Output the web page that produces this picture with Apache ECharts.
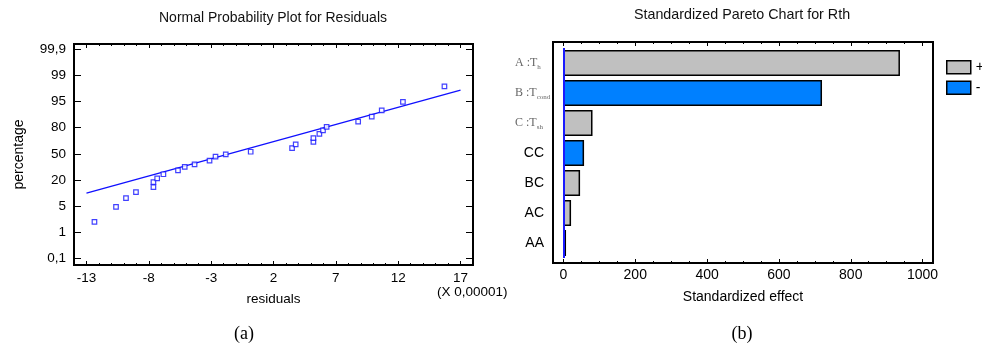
<!DOCTYPE html>
<html>
<head>
<meta charset="utf-8">
<script src="https://cdn.jsdelivr.net/npm/echarts@6/dist/echarts.min.js"></script>
<style>
html,body{margin:0;padding:0;background:#fff;}
#c{width:982px;height:348px;}
</style>
</head>
<body>
<div id="c"></div>
<script>
// ---------- (a) Normal probability plot ----------
// residuals in units of 0,00001
const residuals = [-12.36,-10.63,-9.83,-9.03,-7.63,-7.63,-7.33,-6.83,-5.66,-5.12,-4.33,-3.13,-2.65,-1.83,0.17,3.49,3.78,5.20,5.20,5.68,5.97,6.26,8.79,9.88,10.68,12.38,15.71];
// probability-scale level (0 = 0,1 % ... 8 = 99,9 %), as drawn on the equally spaced axis
const probLevel = [1.40,1.97,2.31,2.54,2.73,2.92,3.06,3.22,3.37,3.50,3.60,3.74,3.89,3.98,4.08,4.22,4.36,4.46,4.60,4.76,4.90,5.03,5.23,5.42,5.66,5.99,6.58];
const fitX = [-13, 17];
const fitLevel = [2.50, 6.44];
const percentLabels = ['0,1','1','5','20','50','80','95','99','99,9'];
const residualTicks = [-13,-8,-3,2,7,12,17];

// ---------- (b) Pareto chart ----------
const factors = ['A :T_h','B :T_cond','C :T_sh','CC','BC','AC','AA'];
const effects = [937, 720, 81, 57.5, 46.4, 21.3, 7.3];
const signs = ['+','-','+','-','+','+','-'];
const effectTicks = [0,200,400,600,800,1000];

const levelTicks = percentLabels.map((_, i) => i);
const residualMinor = [];
for (let v = -14; v <= 18; v++) residualMinor.push(v);
const effectMinor = [];
for (let v = 0; v <= 1000; v += 50) effectMinor.push(v);

const SANS = 'Liberation Sans, Arial, sans-serif';
const SERIF = 'Liberation Serif, Times New Roman, serif';

const hidden = { show: false, onZero: false };

function tickAxis(grid, pos, min, max, vals, len, labels, extra) {
  return Object.assign({
    type: 'value', gridIndex: grid, position: pos, min: min, max: max,
    axisLine: hidden,
    axisTick: { show: true, inside: true, length: len, customValues: vals, lineStyle: { color: '#000', width: 1 } },
    axisLabel: labels ? labels : { show: false },
    splitLine: { show: false }
  }, extra || {});
}

const option = {
  backgroundColor: '#fff',
  animation: false,
  textStyle: { fontFamily: SANS },
  grid: [
    { left: 74, top: 44, width: 399, height: 221, show: true, borderColor: '#000', borderWidth: 2, backgroundColor: '#fff' },
    { left: 553, top: 42, width: 380, height: 221, show: true, borderColor: '#000', borderWidth: 2, backgroundColor: '#fff' },
    { left: 553, top: 48, width: 380, height: 210, show: false }
  ],
  xAxis: [
    tickAxis(0, 'bottom', -14, 18, residualTicks, 4,
      { show: true, customValues: residualTicks, fontSize: 13.5, color: '#000', margin: 6, fontFamily: SANS, formatter: v => String(v) },
      { name: 'residuals', nameLocation: 'middle', nameGap: 27, nameTextStyle: { fontSize: 13.5, color: '#000', fontFamily: SANS } }),
    tickAxis(0, 'bottom', -14, 18, residualMinor, 2),
    tickAxis(0, 'top', -14, 18, residualTicks, 4),
    tickAxis(0, 'top', -14, 18, residualMinor, 2),
    tickAxis(1, 'bottom', -29, 1029, effectTicks, 4,
      { show: true, customValues: effectTicks, fontSize: 14, color: '#000', margin: 5, fontFamily: SANS, formatter: v => String(v) },
      { name: 'Standardized effect', nameLocation: 'middle', nameGap: 27, nameTextStyle: { fontSize: 14, color: '#000', fontFamily: SANS } }),
    tickAxis(1, 'bottom', -29, 1029, effectMinor, 2),
    tickAxis(1, 'top', -29, 1029, effectTicks, 4),
    tickAxis(1, 'top', -29, 1029, effectMinor, 2),
    { type: 'value', gridIndex: 2, min: -29, max: 1029, show: false, axisLine: hidden, splitLine: { show: false } }
  ],
  yAxis: [
    tickAxis(0, 'left', -0.25, 8.2, levelTicks, 7,
      { show: true, customValues: levelTicks, fontSize: 13.5, color: '#000', margin: 8, fontFamily: SANS,
        formatter: v => percentLabels[Math.round(v)] },
      { name: 'percentage', nameLocation: 'middle', nameRotate: 90, nameGap: 48, nameTextStyle: { fontSize: 14, color: '#000', fontFamily: SANS } }),
    tickAxis(0, 'right', -0.25, 8.2, levelTicks, 7),
    { type: 'value', gridIndex: 1, min: 0, max: 1, show: false, axisLine: hidden, splitLine: { show: false } },
    {
      type: 'category', gridIndex: 2, data: factors, inverse: true,
      axisLine: hidden, axisTick: { show: false }, splitLine: { show: false },
      axisLabel: {
        show: true, align: 'left', margin: 38,
        formatter: function (v) {
          const p = v.split('_');
          if (p.length > 1) return '{s|' + p[0] + '}{sub|' + p[1] + '}';
          return '{w|' + v + '}';
        },
        rich: {
          s: { fontFamily: SERIF, fontSize: 12, color: '#666', lineHeight: 15 },
          sub: { fontFamily: SERIF, fontSize: 7, color: '#666', lineHeight: 10, verticalAlign: 'bottom' },
          w: { fontFamily: SANS, fontSize: 14, color: '#000', width: 29, align: 'right' }
        }
      }
    }
  ],
  legend: {
    orient: 'vertical', left: 946, top: 60, padding: 0, itemWidth: 24, itemHeight: 13, itemGap: 6,
    icon: 'rect', data: ['+', '-'],
    textStyle: { fontSize: 14, color: '#000', fontFamily: SANS },
    itemStyle: { borderColor: '#000', borderWidth: 1.5 }
  },
  series: [
    {
      type: 'line', xAxisIndex: 0, yAxisIndex: 0,
      data: fitX.map((x, i) => [x, fitLevel[i]]),
      showSymbol: false, symbol: 'none',
      lineStyle: { color: '#1010ff', width: 1.3 }, silent: true, z: 3
    },
    {
      type: 'scatter', xAxisIndex: 0, yAxisIndex: 0,
      data: residuals.map((x, i) => [x, probLevel[i]]),
      symbol: 'rect', symbolSize: 4.5,
      itemStyle: { color: '#ffffff', borderColor: '#1010ff', borderWidth: 1.2 }, z: 4
    },
    {
      name: '+', type: 'bar', xAxisIndex: 8, yAxisIndex: 3,
      data: effects.map((e, i) => signs[i] === '+' ? e : '-'),
      barWidth: 26, barGap: '-100%',
      itemStyle: { color: '#c0c0c0', borderColor: '#000', borderWidth: 1.5 }
    },
    {
      name: '-', type: 'bar', xAxisIndex: 8, yAxisIndex: 3,
      data: effects.map((e, i) => signs[i] === '-' ? e : '-'),
      barWidth: 26, barGap: '-100%',
      itemStyle: { color: '#0080ff', borderColor: '#000', borderWidth: 1.5 },
      markLine: {
        silent: true, symbol: ['none', 'none'], label: { show: false },
        lineStyle: { color: '#1a1aff', width: 2, type: 'solid' },
        data: [{ xAxis: 0 }]
      }
    }
  ],
  graphic: [
    { type: 'text', x: 273, y: 18, style: { text: 'Normal Probability Plot for Residuals', fontSize: 14, fontFamily: SANS, fill: '#111', align: 'center', verticalAlign: 'middle' } },
    { type: 'text', x: 742, y: 15, style: { text: 'Standardized Pareto Chart for Rth', fontSize: 14.3, fontFamily: SANS, fill: '#111', align: 'center', verticalAlign: 'middle' } },
    { type: 'text', x: 437, y: 292, style: { text: '(X 0,00001)', fontSize: 13.5, fontFamily: SANS, fill: '#000', align: 'left', verticalAlign: 'middle' } },
    { type: 'text', x: 244, y: 334, style: { text: '(a)', fontSize: 18, fontFamily: SERIF, fill: '#000', align: 'center', verticalAlign: 'middle' } },
    { type: 'text', x: 742, y: 334, style: { text: '(b)', fontSize: 18, fontFamily: SERIF, fill: '#000', align: 'center', verticalAlign: 'middle' } }
  ]
};

const chart = echarts.init(document.getElementById('c'), null, { renderer: 'canvas' });
chart.setOption(option);
</script>
</body>
</html>
